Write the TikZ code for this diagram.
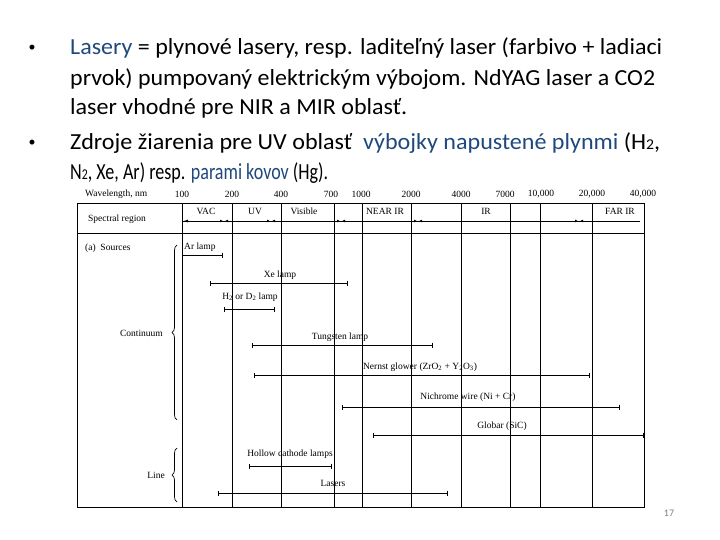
\documentclass[tikz,border=0pt]{standalone}
\usepackage{fontspec}
\setmainfont{Carlito}
\newfontfamily\chartfont{Liberation Serif}
\usetikzlibrary{decorations.pathreplacing,arrows.meta}
\definecolor{hl}{RGB}{31,73,125}
\begin{document}
\begin{tikzpicture}[x=1pt,y=-1pt,
  tline/.style={anchor=west,inner sep=0pt,font=\fontsize{23}{24}\selectfont},
  bul/.style={inner sep=0pt,font=\fontsize{14}{16}\selectfont},
  ct/.style={inner sep=0pt,font=\chartfont\fontsize{9.5}{10}\selectfont},
  grid/.style={line width=0.9pt},
  bar/.style={line width=0.7pt,{Bar[width=5pt]}-{Bar[width=5pt]}},
  brc/.style={decorate,decoration={brace,amplitude=5pt,mirror},line width=0.7pt}]
\useasboundingbox (0,0) rectangle (720,540);
\newcommand\sub[1]{\raisebox{-0.5pt}{\fontsize{15}{16}\selectfont #1}}
% text
\node[bul] (b1) at (32,48) {•};
\node[tline] (l1) at (70,48) {\resizebox{592pt}{\height}{\textcolor{hl}{Lasery} = plynové lasery, resp. laditeľný laser (farbivo + ladiaci}};
\node[tline] (l2) at (70,79) {\resizebox{585pt}{\height}{prvok) pumpovaný elektrickým výbojom. NdYAG laser a CO2}};
\node[tline] (l3) at (70,108) {\resizebox{337pt}{\height}{laser vhodné pre NIR a MIR oblasť.}};
\node[bul] (b2) at (32,143) {•};
\node[tline] (l4) at (70,143) {\resizebox{590pt}{\height}{Zdroje žiarenia pre UV oblasť\ \ \textcolor{hl}{výbojky napustené plynmi} (H\sub{2},}};
\node[tline] (l5) at (70,173) {\resizebox{258pt}{\height}{N\sub{2}, Xe, Ar) resp. \textcolor{hl}{parami kovov} (Hg).}};
\node[inner sep=0pt,text=gray,font=\fontsize{10}{11}\selectfont] (pg) at (669,513) {17};
% table frame
\draw[grid] (77,203) rectangle (644,507);
\draw[grid] (77,233) -- (644,233);
\foreach \xx in {182,232,281,334,362,411,461,510,540,592}
  \draw[grid] (\xx,203) -- (\xx,507);
% header
\node[ct,anchor=west] (wl) at (85,194) {Wavelength, nm};
\foreach \xx/\t in {182/100,232/200,281/400,331/700,361/1000,411/2000,461/4000,505/7000,541/{10,000},592/{20,000},643/{40,000}}
  \node[ct] at (\xx,194) {\t};
\node[ct,anchor=west] (sr) at (88,219) {Spectral region};
\node[ct] (vac) at (206,211) {VAC};
\node[ct] (uv) at (255,211) {UV};
\node[ct] (vis) at (304,211) {Visible};
\node[ct] (nir) at (385,211) {NEAR IR};
\node[ct] (ir) at (486,211) {IR};
\node[ct] (fir) at (620,211) {FAR IR};
\draw[line width=0.5pt] (183,221) -- (640,221);
\draw[line width=0.5pt,-{Latex[length=4pt]}] (192,221) -- (184,221);
\foreach \xx in {223,270,340,417,578}{
  \draw[line width=0.6pt,-{Latex[length=3pt,width=3pt]}] (\xx-5,221) -- (\xx,221);
  \draw[line width=0.6pt,-{Latex[length=3pt,width=3pt]}] (\xx+7,221) -- (\xx+2,221);}
% sources
\node[ct,anchor=west] (src) at (85,248) {(a)\ \ Sources};
\node[ct,anchor=west] (ar) at (184,247) {Ar lamp};
\draw[bar] (182,255) -- (223,255);
\node[ct] (xe) at (280,275) {Xe lamp};
\draw[bar] (210,283) -- (348,283);
\node[ct] (h2) at (250,297) {H\textsubscript{2} or D\textsubscript{2} lamp};
\draw[bar] (224,309) -- (275,309);
\node[ct] (tu) at (340,337) {Tungsten lamp};
\draw[bar] (252,345) -- (433,345);
\node[ct] (ne) at (420,367) {Nernst glower (ZrO\textsubscript{2} + Y\textsubscript{2}O\textsubscript{3})};
\draw[bar] (254,375) -- (590,375);
\node[ct] (ni) at (468,397) {Nichrome wire (Ni + Cr)};
\draw[bar] (342,407) -- (620,407);
\node[ct] (gl) at (502,426) {Globar (SiC)};
\draw[bar] (373,435) -- (644,435);
\node[ct] (hc) at (290,454) {Hollow cathode lamps};
\draw[bar] (249,466) -- (332,466);
\node[ct] (la) at (333,483) {Lasers};
\draw[bar] (218,493) -- (448,493);
% braces
\node[ct,anchor=east] (co) at (163,333) {Continuum};
\draw[brc] (177,245) -- (177,420);
\node[ct,anchor=east] (li) at (165,475) {Line};
\draw[brc] (177,448) -- (177,502);
\end{tikzpicture}
\end{document}
